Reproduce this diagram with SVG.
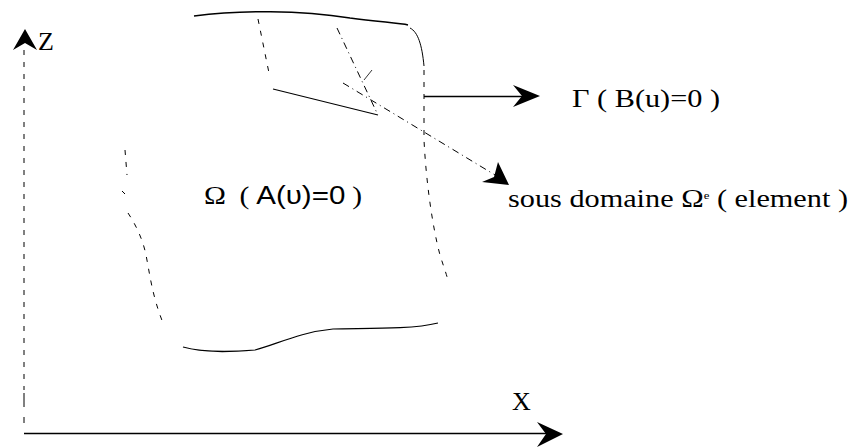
<svg xmlns="http://www.w3.org/2000/svg" width="863" height="447" viewBox="0 0 863 447">
  <style>
    .txt { font-family: "Liberation Serif", "Times New Roman", serif; font-size: 26px; fill: #000; }
    .sans { font-family: "Liberation Sans", Arial, sans-serif; }
    .solid { fill: none; stroke: #000; stroke-width: 1.4; }
    .dash { fill: none; stroke: #000; stroke-width: 1; stroke-dasharray: 5 7; }
    .dashfine { fill: none; stroke: #000; stroke-width: 1; stroke-dasharray: 7 4 1 4; }
    .head { fill: #000; stroke: none; }
  </style>
  <rect width="863" height="447" fill="#fff"/>

  <!-- axes -->
  <g id="axes">
    <path class="dash" d="M24,50 L24,390"/>
    <path class="solid" d="M24,393 L24,407 M24,417 L24,423" style="stroke-width:1"/>
    <path class="head" d="M25,29 L37,50 L25,43 L13,50 Z"/>
    <text class="txt" x="38" y="50">Z</text>
    <path class="solid" d="M24,433.5 L548,433.5"/>
    <path class="head" d="M563,434 L537,422 L546,434 L537,447 Z"/>
    <text class="txt" x="512" y="410">X</text>
  </g>

  <!-- domain Omega -->
  <g id="domain">
    <path class="solid" d="M194,16 C240,10 300,10 350,18 C380,22 400,23 408,25"/>
    <path class="solid" d="M410,28 C418,32 422,45 424,66" style="stroke-width:1"/>
    <path class="dash" d="M424,70 L424,140 C426,180 432,225 440,255 C444,268 448,278 448,282"/>
    <path class="solid" d="M438,323 C410,330 360,328 333,329 C300,332 275,345 255,350 C230,352 205,353 183,347" style="stroke-width:1.2"/>
    <path class="dash" d="M125,150 L127,175"/>
    <path class="dash" d="M122,191 L125,194"/>
    <path class="dash" d="M128,213 C136,225 143,240 146,255 C150,275 152,295 163,323"/>
    <text class="txt" x="204" y="204" textLength="158" lengthAdjust="spacingAndGlyphs">Ω<tspan dx="12">(</tspan><tspan class="sans" dx="6">A(υ)=0</tspan><tspan dx="6">)</tspan></text>
  </g>

  <!-- element (sub-domain) -->
  <g id="element">
    <path class="dash" d="M258,19 L269,73"/>
    <path class="solid" d="M273,89 L378,115" style="stroke-width:1.1"/>
    <path class="dashfine" d="M337,28 L377,113"/>
    <path class="solid" d="M372,70 L364,80" style="stroke-width:0.8"/>
  </g>

  <!-- labels -->
  <g id="gamma-label">
    <text class="txt" x="572" y="107" textLength="148" lengthAdjust="spacingAndGlyphs">Γ (  B(u)=0 )</text>
  </g>
  <g id="subdomain-label">
    <text class="txt" x="508" y="207" textLength="340" lengthAdjust="spacingAndGlyphs">sous domaine  Ω<tspan font-size="11" dy="-8">e</tspan><tspan dy="8"> ( element )</tspan></text>
  </g>

  <!-- connectors -->
  <g id="connectors">
    <path class="solid" d="M424,96.5 L525,96.5"/>
    <path class="head" d="M540,96 L513,85 L522,96 L513,107 Z"/>
    <path class="dashfine" d="M343,83 L500,178"/>
    <path class="head" d="M509,185 L482,182 L494,177 L498,162 Z"/>
  </g>
</svg>
